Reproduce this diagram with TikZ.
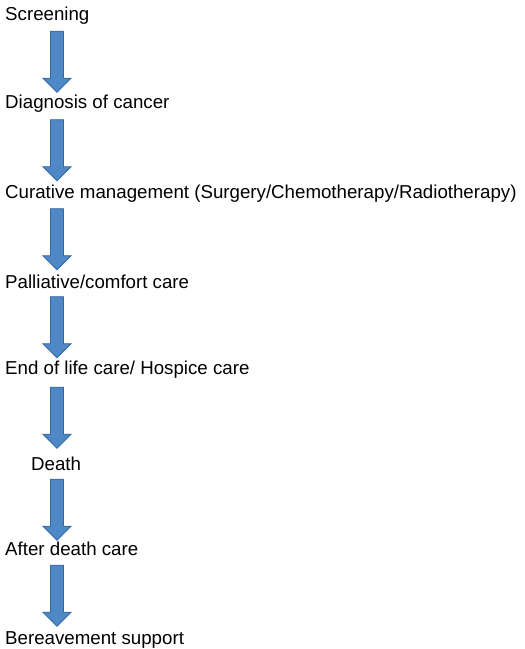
\documentclass[tikz,border=0pt]{standalone}
\usepackage{fontspec}
\setmainfont{Liberation Sans}
\usepackage{xcolor}
\usetikzlibrary{shapes.arrows}

\definecolor{arrowfill}{HTML}{4F88C6}
\definecolor{arrowline}{HTML}{3467A0}

\begin{document}
\begin{tikzpicture}[x=1pt, y=-1pt,
  stage/.style={anchor=base west, inner sep=0pt,
              font=\fontsize{18.7}{22}\selectfont},
  flow/.style={single arrow, draw=arrowline, fill=arrowfill, line width=0.9pt,
              rotate=-90, inner sep=0pt, minimum width=28pt,
              single arrow head extend=7.5pt, single arrow head indent=0pt,
              minimum height=61pt}
]
  \useasboundingbox (0,0) rectangle (525,649);

  % Stages
  \node[stage] (screen)  at (5, 20)  {Screening};
  \node[stage] (diag)    at (5, 108) {Diagnosis of cancer};
  \node[stage] (cure)    at (5, 198) {Curative management (Surgery/Chemotherapy/Radiotherapy)};
  \node[stage] (pall)    at (5, 288) {Palliative/comfort care};
  \node[stage] (eol)     at (5, 374) {End of life care/ Hospice care};
  \node[stage] (death)   at (31, 470) {Death};
  \node[stage] (after)   at (5, 555) {After death care};
  \node[stage] (bereave) at (5, 644) {Bereavement support};

  % Block arrows (shaft 12pt wide)
  \node[flow] (a1) at (57, 58.5)  {\rule{0pt}{12pt}};
  \node[flow] (a2) at (57, 147)   {\rule{0pt}{12pt}};
  \node[flow] (a3) at (57, 236)   {\rule{0pt}{12pt}};
  \node[flow] (a4) at (57, 324)   {\rule{0pt}{12pt}};
  \node[flow] (a5) at (57, 414.5) {\rule{0pt}{12pt}};
  \node[flow] (a6) at (57, 506.5) {\rule{0pt}{12pt}};
  \node[flow] (a7) at (57, 592.5) {\rule{0pt}{12pt}};

\end{tikzpicture}
\end{document}
